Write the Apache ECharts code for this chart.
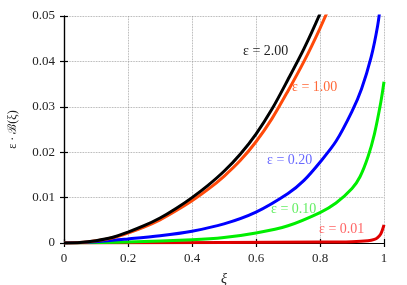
<!DOCTYPE html>
<html>
<head>
<meta charset="utf-8">
<script src="https://cdn.jsdelivr.net/npm/echarts@6/dist/echarts.min.js"></script>
<style>html,body{margin:0;padding:0;background:#fff}#c{width:407px;height:285px}</style>
</head>
<body>
<div id="c"></div>
<script>
// tick labels / axes
const xTicks = [0, 0.2, 0.4, 0.6, 0.8, 1];
const yTicks = [0, 0.01, 0.02, 0.03, 0.04, 0.05];
const seriesNames = ['\u03b5 = 2.00', '\u03b5 = 1.00', '\u03b5 = 0.20', '\u03b5 = 0.10', '\u03b5 = 0.01'];

// eps = 2.00 and eps = 1.00
const xiA = [0, 0.05, 0.1, 0.15, 0.2, 0.25, 0.3, 0.35, 0.4, 0.45, 0.5, 0.55, 0.6, 0.65, 0.7, 0.75, 0.8, 0.85];
const eps200 = [0, 0.0001, 0.0005, 0.0012, 0.0024, 0.0038, 0.0055, 0.0076, 0.0100, 0.0127, 0.0158, 0.0195, 0.0240, 0.0295, 0.0360, 0.0428, 0.0505, 0.0590];
const eps100 = [0, 0.0001, 0.0005, 0.0011, 0.0022, 0.0035, 0.0051, 0.0071, 0.0093, 0.0118, 0.0147, 0.0181, 0.0223, 0.0274, 0.0335, 0.0400, 0.0473, 0.0553];
// eps = 0.20
const xiB = [0, 0.1, 0.2, 0.3, 0.4, 0.5, 0.6, 0.7, 0.75, 0.8, 0.85, 0.9, 0.93, 0.96, 0.98, 0.99];
const eps020 = [0, 0.0003, 0.0009, 0.0016, 0.0026, 0.0042, 0.0068, 0.0109, 0.0138, 0.0178, 0.0224, 0.0290, 0.0340, 0.0410, 0.0478, 0.0530];
// eps = 0.10
const xiC = [0, 0.2, 0.4, 0.5, 0.6, 0.7, 0.8, 0.85, 0.9, 0.925, 0.95, 0.97, 0.99, 1.0];
const eps010 = [0, 0.0002, 0.0007, 0.0012, 0.0022, 0.0038, 0.0067, 0.0088, 0.0120, 0.0146, 0.0190, 0.0240, 0.0310, 0.0355];
// eps = 0.01
const xiD = [0, 0.5, 0.8, 0.9, 0.95, 0.97, 0.98, 0.99, 1.0];
const eps001 = [0, 0.0001, 0.0002, 0.0003, 0.0005, 0.0008, 0.0012, 0.0020, 0.0040];

const lineColors = ['#000000', '#ff4a0a', '#0000ff', '#00ee00', '#e00000'];
const labelColors = ['#222222', '#ff6a3a', '#6a6aff', '#66ee66', '#ff6666'];
const labelPos = [[243, 52], [292, 88], [267, 161], [271, 210], [319, 230]];

const pairs = (xs, ys) => xs.map((x, i) => [x, ys[i]]);
const dataSets = [pairs(xiA, eps200), pairs(xiA, eps100), pairs(xiB, eps020), pairs(xiC, eps010), pairs(xiD, eps001)];

const FONT = 'Liberation Serif, DejaVu Serif, serif';
const chart = echarts.init(document.getElementById('c'), null, {renderer: 'canvas'});

const baseAxisLine = {show: true, lineStyle: {color: '#000', width: 1.2}};
const baseTick = {show: true, inside: true, length: 4, lineStyle: {color: '#000', width: 1.2}};
const grid = {type: 'dotted', color: '#999', width: 0.8};

chart.setOption({
  animation: false,
  grid: {left: 64, right: 23, top: 16, bottom: 42, containLabel: false, outerBoundsMode: 'none'},
  xAxis: [{
    type: 'value', min: 0, max: 1, interval: 0.2, position: 'bottom',
    name: '\u03be', nameLocation: 'middle', nameGap: 29,
    nameTextStyle: {fontFamily: FONT, fontSize: 14, fontStyle: 'italic', color: '#222'},
    axisLine: baseAxisLine, axisTick: baseTick,
    axisLabel: {fontFamily: FONT, fontSize: 13, color: '#222', margin: 9,
      formatter: v => { const t = xTicks.find(q => Math.abs(q - v) < 1e-9); return t === undefined ? '' : String(t); }},
    splitLine: {show: true, lineStyle: grid}
  }, {
    type: 'value', min: 0, max: 1, interval: 0.2, position: 'top',
    axisLine: baseAxisLine, axisTick: baseTick, axisLabel: {show: false}, splitLine: {show: false}
  }],
  yAxis: [{
    type: 'value', min: 0, max: 0.05, interval: 0.01, position: 'left',
    name: '\u03b5 \u00b7 \u212c(\u03be)', nameLocation: 'middle', nameGap: 45, nameRotate: 90,
    nameTextStyle: {fontFamily: FONT, fontSize: 12, color: '#222'},
    axisLine: baseAxisLine, axisTick: baseTick,
    axisLabel: {fontFamily: FONT, fontSize: 13, color: '#222', margin: 9,
      formatter: v => { const t = yTicks.find(q => Math.abs(q - v) < 1e-9); return t === undefined ? '' : String(t); }},
    splitLine: {show: true, lineStyle: grid}
  }, {
    type: 'value', min: 0, max: 0.05, interval: 0.01, position: 'right',
    axisLine: baseAxisLine, axisTick: baseTick, axisLabel: {show: false}, splitLine: {show: false}
  }],
  series: dataSets.map((d, i) => ({
    name: seriesNames[i], type: 'line', data: d, smooth: 0.3, showSymbol: false, clip: true,
    lineStyle: {color: lineColors[i], width: 3}, z: 10 - i
  })),
  graphic: seriesNames.map((t, i) => ({
    type: 'text', left: labelPos[i][0], top: labelPos[i][1] - 8, z: 100,
    style: {text: t, fill: labelColors[i], font: '14px ' + FONT}
  }))
});
</script>
</body>
</html>
